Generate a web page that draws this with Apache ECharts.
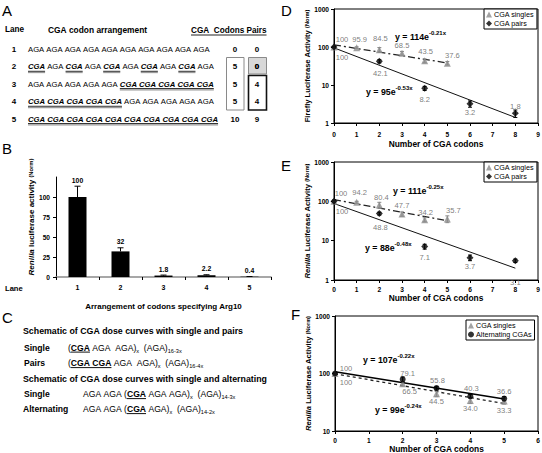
<!DOCTYPE html>
<html><head><meta charset="utf-8">
<script src="https://cdn.jsdelivr.net/npm/echarts@6/dist/echarts.min.js"></script>
<style>html,body{margin:0;padding:0;background:#fff}#c{width:542px;height:453px}</style>
</head><body><div id="c"></div>
<script>
const FONT = '"Liberation Sans", Arial, Helvetica, sans-serif';

// ---------- Panel A data ----------
const laneNumbers = ['1', '2', '3', '4', '5'];
const laneSeqs = [
  'AGA AGA AGA AGA AGA AGA AGA AGA AGA AGA',
  'CGA AGA CGA AGA CGA AGA CGA AGA CGA AGA',
  'AGA AGA AGA AGA AGA CGA CGA CGA CGA CGA',
  'CGA CGA CGA CGA CGA AGA AGA AGA AGA AGA',
  'CGA CGA CGA CGA CGA CGA CGA CGA CGA CGA'
];
const laneCodons = ['0', '5', '5', '5', '10'];
const lanePairs = ['0', '0', '4', '4', '9'];

// ---------- Panel B data ----------
const bLanes = ['1', '2', '3', '4', '5'];
const bValues = [100, 32, 1.8, 2.2, 0.4];
const bErrHigh = [113.5, 36.5, 2.4, 2.8, 0.6];
const bTicks = [0, 25, 50, 75, 100];

// ---------- Panel C text ----------
const cHeader1 = 'Schematic of CGA dose curves with single and pairs';
const cHeader2 = 'Schematic of CGA dose curves with single and alternating';
const cRowNames = ['Single', 'Pairs', 'Single', 'Alternating'];
const cRowParts = [
  [['(', 'n'], ['CGA', 'u'], [' AGA  AGA)', 'n'], ['x', 'sub'], ['  (AGA)', 'n'], ['16-3x', 'sub']],
  [['(', 'n'], ['CGA CGA', 'u'], [' AGA  AGA)', 'n'], ['x', 'sub'], ['  (AGA)', 'n'], ['16-4x', 'sub']],
  [['AGA AGA (', 'n'], ['CGA', 'u'], [' AGA AGA)', 'n'], ['x', 'sub'], ['  (AGA)', 'n'], ['14-3x', 'sub']],
  [['AGA AGA (', 'n'], ['CGA', 'u'], [' AGA)', 'n'], ['x', 'sub'], ['  (AGA)', 'n'], ['14-2x', 'sub']]
];

// ---------- Panel D data ----------
const dSinglesX = [0, 1, 2, 3, 4, 5];
const dSingles = [100, 95.9, 84.5, 68.5, 43.5, 37.6];
const dSinglesErr = [3, 5, 12, 8, 5, 4];
const dPairsX = [0, 2, 4, 6, 8];
const dPairs = [100, 42.1, 8.2, 3.2, 1.8];
const dPairsErr = [3, 4, 1, 0.6, 0.4];
const dSinglesFitX = [0, 5];
const dSinglesFit = [114, 38];
const dPairsFitX = [0, 8];
const dPairsFit = [95, 1.4];

// ---------- Panel E data ----------
const eSinglesX = [0, 1, 2, 3, 4, 5];
const eSingles = [100, 94.2, 80.4, 47.7, 34.2, 35.7];
const eSinglesErr = [3, 6, 14, 6, 4, 7];
const ePairsX = [0, 2, 4, 6, 8];
const ePairs = [100, 48.8, 7.1, 3.7, 3.1];
const ePairsErr = [8, 4, 1, 0.6, 0.3];
const eSinglesFitX = [0, 5];
const eSinglesFit = [111, 32];
const ePairsFitX = [0, 8];
const ePairsFit = [88, 2.0];

// ---------- Panel F data ----------
const fX = [0, 2, 3, 4, 5];
const fSingles = [100, 66.5, 44.5, 34.0, 33.3];
const fSinglesErr = [3, 6, 5, 4, 4];
const fAlt = [100, 79.1, 55.8, 40.3, 36.6];
const fAltErr = [3, 8, 4, 3, 3];
const fSinglesFitX = [0, 5];
const fSinglesFit = [99, 30];
const fAltFitX = [0, 5];
const fAltFit = [107, 36];

// ---------- layout helpers ----------
const NB = '\u00a0';
const mctx = document.createElement('canvas').getContext('2d');
function tw(t, size, w, s) { mctx.font = (s || 'normal') + ' ' + (w || 'normal') + ' ' + size + 'px ' + FONT; return mctx.measureText(t).width; }
function txt(x, y, t, size, o) {
  o = o || {};
  return { type: 'text', x: x, y: y, silent: true, z: 10,
    style: { text: t.replace(/ /g, NB), fontSize: size, fontFamily: FONT, fontWeight: o.w || 'normal', fontStyle: o.s || 'normal',
      fill: o.c || '#000', align: o.a || 'left', verticalAlign: o.v || 'middle' } };
}
function ln(x1, y1, x2, y2, c, w) {
  return { type: 'line', silent: true, z: 10, shape: { x1: x1, y1: y1, x2: x2, y2: y2 }, style: { stroke: c, lineWidth: w } };
}
function rc(x, y, w, h, stroke, lw, fill) {
  return { type: 'rect', silent: true, z: 9, shape: { x: x, y: y, width: w, height: h }, style: { stroke: stroke, lineWidth: lw, fill: fill || 'none' } };
}
function underline(els, x1, x2, y) {
  els.push(ln(x1, y + 4.6, x2, y + 4.6, '#222', 1));
  els.push(ln(x1, y + 5.8, x2, y + 5.8, '#9a9a9a', 1.3));
}

const G = [];
// panel letters
G.push(txt(2, 10, 'A', 15));
G.push(txt(2, 148, 'B', 15));
G.push(txt(2, 317, 'C', 15));
G.push(txt(281, 10, 'D', 15));
G.push(txt(281, 165, 'E', 15));
G.push(txt(291, 314, 'F', 15));

// ---------- Panel A ----------
G.push(txt(5, 29.5, 'Lane', 8.2, { w: 'bold' }));
G.push(txt(48, 29.5, 'CGA codon arrangement', 8.4, { w: 'bold' }));
G.push(txt(191, 30.5, 'CGA  Codons Pairs', 8.2, { w: 'bold' }));
G.push(ln(191, 35, 191 + tw('CGA  Codons Pairs', 8.2, 'bold'), 35, '#222', 1));
const rowY = [49.3, 66.7, 84, 101.7, 119];
const seqSize = 7.7;
laneSeqs.forEach(function (seq, r) {
  const y = rowY[r];
  G.push(txt(14, y, laneNumbers[r], 8, { w: 'bold', a: 'center' }));
  let x = 28, prev = false, us = 0, ue = 0;
  const toks = seq.split(' ');
  toks.forEach(function (t) {
    const isC = t === 'CGA';
    const w = tw(t, seqSize, isC ? 'bold' : 'normal', isC ? 'italic' : 'normal');
    G.push(txt(x, y, t, seqSize, isC ? { w: 'bold', s: 'italic' } : {}));
    if (isC) { if (!prev) us = x; ue = x + w; }
    else if (prev) underline(G, us, ue, y);
    prev = isC;
    x += w + tw(' ', seqSize);
  });
  if (prev) underline(G, us, ue, y);
  G.push(txt(235, y, laneCodons[r], 8, { w: 'bold', a: 'center' }));
  G.push(txt(257, y, lanePairs[r], 8, { w: 'bold', a: 'center' }));
});
G.push(rc(226.5, 57.5, 17.5, 52.5, '#8a8a8a', 1));
G.push(rc(248.5, 57.5, 18, 16.5, '#8a8a8a', 1, '#d8d8d8'));
G.push(rc(248.5, 75.5, 18, 34.5, '#111', 1.6));
G.push(Object.assign(txt(257, rowY[1], lanePairs[1], 8, { w: 'bold', a: 'center' }), { z: 11 }));

// ---------- Panel B extras ----------
G.push(txt(5, 288.5, 'Lane', 7.6, { w: 'bold' }));

// ---------- Panel C ----------
const cY = [331, 347.5, 363, 378.5, 394, 409];
G.push(txt(23, cY[0], cHeader1, 8.8, { w: 'bold' }));
G.push(txt(23, cY[3], cHeader2, 8.8, { w: 'bold' }));
const cRowY = [cY[1], cY[2], cY[4], cY[5]];
const cNameX = [24, 24, 24, 23];
const cSeqX = [68, 68, 83, 83];
const cSize = 8.6;
cRowNames.forEach(function (nm, r) {
  const y = cRowY[r];
  G.push(txt(cNameX[r], y, nm, 8.6, { w: 'bold' }));
  let x = cSeqX[r];
  cRowParts[r].forEach(function (p) {
    const t = p[0], k = p[1];
    if (k === 'sub') {
      G.push(txt(x, y + 3.2, t, 5.6));
      x += tw(t, 5.6);
    } else if (k === 'u') {
      G.push(txt(x, y, t, cSize, { w: 'bold' }));
      const w = tw(t, cSize, 'bold');
      G.push(ln(x, y + 4.6, x + w, y + 4.6, '#111', 1));
      x += w;
    } else {
      G.push(txt(x, y, t, cSize));
      x += tw(t, cSize);
    }
  });
});

// ---------- equations ----------
function eq(x, y, coef, ex) {
  return { type: 'text', x: x, y: y, silent: true, z: 10,
    style: { text: '{m|y' + NB + '=' + NB + coef + 'e}{s|' + ex + '}', verticalAlign: 'middle', align: 'left',
      rich: { m: { fontSize: 8.8, fontWeight: 'bold', fontFamily: FONT, fill: '#000' },
              s: { fontSize: 6, fontWeight: 'bold', fontFamily: FONT, fill: '#000', padding: [0, 0, 9, 0] } } } };
}
G.push(eq(395, 37, '114', '-0.21x'));
G.push(eq(366, 92, '95', '-0.53x'));
G.push(eq(393, 191, '111', '-0.25x'));
G.push(eq(365, 248, '88', '-0.48x'));
G.push(eq(363, 360, '107', '-0.22x'));
G.push(eq(375, 410, '99', '-0.24x'));

// ---------- series helpers ----------
function fmt(v) { return v === 100 ? '100' : v.toFixed(1); }
function pts(gi, name, xs, vals, symbol, size, color, offs) {
  return { type: 'scatter', name: name, xAxisIndex: gi, yAxisIndex: gi, symbol: symbol, symbolSize: size,
    itemStyle: { color: color }, z: 6, silent: true,
    data: xs.map(function (x, i) { return { value: [x, vals[i]], label: { offset: offs[i] } }; }),
    label: { show: true, position: 'inside', formatter: function (p) { return fmt(p.value[1]); },
      color: '#5a5a5a', fontSize: 7.6, fontFamily: FONT, textBorderWidth: 0 } };
}
function errs(gi, xs, vals, e, color) {
  return { type: 'custom', xAxisIndex: gi, yAxisIndex: gi, z: 5, silent: true,
    data: xs.map(function (x, i) { return [x, vals[i] - e[i], vals[i] + e[i]]; }),
    renderItem: function (params, api) {
      const lo = api.coord([api.value(0), api.value(1)]);
      const hi = api.coord([api.value(0), api.value(2)]);
      const st = { stroke: color, lineWidth: 1 };
      return { type: 'group', children: [
        { type: 'line', shape: { x1: lo[0], y1: lo[1], x2: hi[0], y2: hi[1] }, style: st },
        { type: 'line', shape: { x1: lo[0] - 2, y1: lo[1], x2: lo[0] + 2, y2: lo[1] }, style: st },
        { type: 'line', shape: { x1: hi[0] - 2, y1: hi[1], x2: hi[0] + 2, y2: hi[1] }, style: st }] };
    } };
}
function fit(gi, xs, vals, ls) {
  return { type: 'line', xAxisIndex: gi, yAxisIndex: gi, symbol: 'none', silent: true, z: 4,
    data: xs.map(function (x, i) { return [x, vals[i]]; }), lineStyle: ls };
}

const dashDot = { color: '#222', width: 1.3, type: [7, 3, 2, 3] };
const solid = { color: '#111', width: 1, type: 'solid' };

const series = [
  // B
  { type: 'bar', xAxisIndex: 0, yAxisIndex: 0, data: bValues, barWidth: 18, itemStyle: { color: '#000' }, silent: true, z: 3 },
  { type: 'custom', xAxisIndex: 0, yAxisIndex: 0, z: 4, silent: true,
    data: bValues.map(function (v, i) { return [i, v, bErrHigh[i]]; }),
    renderItem: function (params, api) {
      const i = api.value(0);
      const p0 = api.coord([i, api.value(1)]);
      const p1 = api.coord([i, api.value(2)]);
      const st = { stroke: '#000', lineWidth: 1 };
      return { type: 'group', children: [
        { type: 'line', shape: { x1: p0[0], y1: p0[1], x2: p1[0], y2: p1[1] }, style: st },
        { type: 'line', shape: { x1: p1[0] - 3, y1: p1[1], x2: p1[0] + 3, y2: p1[1] }, style: st },
        { type: 'text', style: { text: String(bValues[params.dataIndex]), x: p1[0], y: p1[1] - 2.5, align: 'center', verticalAlign: 'bottom',
          fontSize: 6.8, fontWeight: 'bold', fontFamily: FONT, fill: '#000' } }] };
    } },
  // D
  fit(1, dSinglesFitX, dSinglesFit, dashDot),
  fit(1, dPairsFitX, dPairsFit, solid),
  errs(1, dSinglesX, dSingles, dSinglesErr, '#888'),
  errs(1, dPairsX, dPairs, dPairsErr, '#000'),
  pts(1, 'CGA singles', dSinglesX, dSingles, 'triangle', 7, '#8c8c8c', [[8, -8], [3, -8], [1, -11], [0, -8], [1, -9], [5, -8]]),
  pts(1, 'CGA pairs', dPairsX, dPairs, 'diamond', 7, '#000', [[8, 10], [1, 12], [0, 11], [0, 9], [0, -7]]),
  // E
  fit(2, eSinglesFitX, eSinglesFit, dashDot),
  fit(2, ePairsFitX, ePairsFit, solid),
  errs(2, eSinglesX, eSingles, eSinglesErr, '#888'),
  errs(2, ePairsX, ePairs, ePairsErr, '#000'),
  pts(2, 'CGA singles', eSinglesX, eSingles, 'triangle', 7, '#8c8c8c', [[7, -8], [3, -10], [2, -8], [0, -8], [1, -7], [6, -8]]),
  pts(2, 'CGA pairs', ePairsX, ePairs, 'diamond', 7, '#000', [[8, 10], [1, 14], [0, 11], [0, 9], [0, 22]]),
  // F
  fit(3, fAltFitX, fAltFit, { color: '#000', width: 1.5, type: 'solid' }),
  fit(3, fSinglesFitX, fSinglesFit, { color: '#222', width: 1.3, type: [3, 3] }),
  errs(3, fX, fSingles, fSinglesErr, '#888'),
  errs(3, fX, fAlt, fAltErr, '#000'),
  pts(3, 'CGA singles', fX, fSingles, 'triangle', 7, '#8c8c8c', [[11, 9], [7, 8], [0, 8], [0, 8], [0, 10]]),
  pts(3, 'Alternating CGAs', fX, fAlt, 'circle', 6, '#000', [[11, -5], [5, -6], [1, -8], [1, -8], [0, -7]])
];

const lblBold = { fontSize: 6.6, fontWeight: 'bold', fontFamily: FONT, color: '#000' };
const nameRich = {
  i: { fontSize: 7.6, fontWeight: 'bold', fontStyle: 'italic', fontFamily: FONT, color: '#000' },
  b: { fontSize: 7.6, fontWeight: 'bold', fontFamily: FONT, color: '#000' },
  s: { fontSize: 5.6, fontWeight: 'bold', fontFamily: FONT, color: '#000' }
};
function logY(gi, min, max, name) {
  return { type: 'log', logBase: 10, gridIndex: gi, min: min, max: max,
    axisLine: { show: true, lineStyle: { color: '#000', width: 1 } },
    axisTick: { show: true, length: 3, inside: false, lineStyle: { color: '#000' } },
    axisLabel: { margin: 5, ...lblBold, formatter: function (v) { return String(Math.round(v)); } },
    splitLine: { show: false }, minorTick: { show: false },
    name: name, nameLocation: 'middle', nameGap: 23, nameRotate: 90, nameMoveOverlap: false,
    nameTextStyle: { rich: nameRich } };
}
function valX(gi, max, margin, gap) {
  return { type: 'value', gridIndex: gi, min: 0, max: max, interval: 1,
    axisLine: { show: true, onZero: false, lineStyle: { color: '#000', width: 1 } },
    axisTick: { show: true, length: 3, inside: false, lineStyle: { color: '#000' } },
    axisLabel: { margin: margin, ...lblBold }, splitLine: { show: false },
    name: 'Number of CGA codons', nameLocation: 'middle', nameGap: gap, nameMoveOverlap: false,
    nameTextStyle: { fontSize: 8.4, fontWeight: 'bold', fontFamily: FONT, color: '#000' } };
}
const gridBorder = { show: true, borderColor: '#000', borderWidth: 1, backgroundColor: 'rgba(0,0,0,0)', outerBoundsMode: 'none', containLabel: false };
const legendBase = { orient: 'vertical', backgroundColor: '#fff', borderColor: '#000', borderWidth: 1, padding: [2, 3, 2, 2],
  itemGap: 2, itemWidth: 6, itemHeight: 6, selectedMode: false,
  textStyle: { fontSize: 7.2, fontFamily: FONT, color: '#000', padding: [0, 0, 0, -3] } };

const option = {
  animation: false,
  backgroundColor: '#fff',
  grid: [
    { left: 56, top: 177, width: 215, height: 100, show: false, outerBoundsMode: 'none', containLabel: false },
    Object.assign({ left: 334, top: 9, width: 204, height: 114 }, gridBorder),
    Object.assign({ left: 334, top: 162, width: 204, height: 118 }, gridBorder),
    Object.assign({ left: 335, top: 316, width: 203, height: 115 }, gridBorder)
  ],
  xAxis: [
    { type: 'category', gridIndex: 0, data: bLanes,
      axisLine: { show: true, lineStyle: { color: '#8a8a8a', width: 1.6 } },
      axisTick: { show: true, length: 3, inside: false, lineStyle: { color: '#000' } },
      axisLabel: { margin: 7, ...lblBold, fontSize: 7 },
      name: 'Arrangement of codons specifying Arg10', nameLocation: 'middle', nameGap: 25, nameMoveOverlap: false,
      nameTextStyle: { fontSize: 8, fontWeight: 'bold', fontFamily: FONT, color: '#000' } },
    valX(1, 9, 8, 17),
    valX(2, 9, 6, 14),
    valX(3, 6, 5.5, 14)
  ],
  yAxis: [
    { type: 'value', gridIndex: 0, min: 0, max: 125, interval: 25,
      axisLine: { show: true, lineStyle: { color: '#000', width: 1 } },
      axisTick: { show: true, length: 3, customValues: bTicks, lineStyle: { color: '#000' } },
      axisLabel: { margin: 6, customValues: bTicks, ...lblBold, formatter: function (v) { return v > 100 ? '' : String(v); } },
      splitLine: { show: false },
      name: '{i|Renilla}{b| luciferase activity }{s|(Norm)}', nameLocation: 'middle', nameGap: 21, nameRotate: 90, nameMoveOverlap: false,
      nameTextStyle: { padding: [0, 0, 0, 20], rich: {
        i: { fontSize: 8, fontWeight: 'bold', fontStyle: 'italic', fontFamily: FONT, color: '#000' },
        b: { fontSize: 8, fontWeight: 'bold', fontFamily: FONT, color: '#000' },
        s: { fontSize: 5.8, fontWeight: 'bold', fontFamily: FONT, color: '#000' } } } },
    logY(1, 1, 1000, '{b|Firefly Luciferase Activity }{s|(Norm)}'),
    logY(2, 1, 1000, '{i|Renilla}{b| Luciferase Activity }{s|(Norm)}'),
    logY(3, 10, 1000, '{i|Renilla}{b| Luciferase Activity }{s|(Norm)}')
  ],
  legend: [
    Object.assign({ data: ['CGA singles', 'CGA pairs'], left: 484, top: 9 }, legendBase),
    Object.assign({ data: ['CGA singles', 'CGA pairs'], left: 484, top: 162 }, legendBase),
    Object.assign({ data: ['CGA singles', 'Alternating CGAs'], left: 466, top: 320 }, legendBase)
  ],
  graphic: { elements: G },
  series: series
};

const chart = echarts.init(document.getElementById('c'), null, { renderer: 'svg', width: 542, height: 453 });
chart.setOption(option);
</script>
</body></html>
